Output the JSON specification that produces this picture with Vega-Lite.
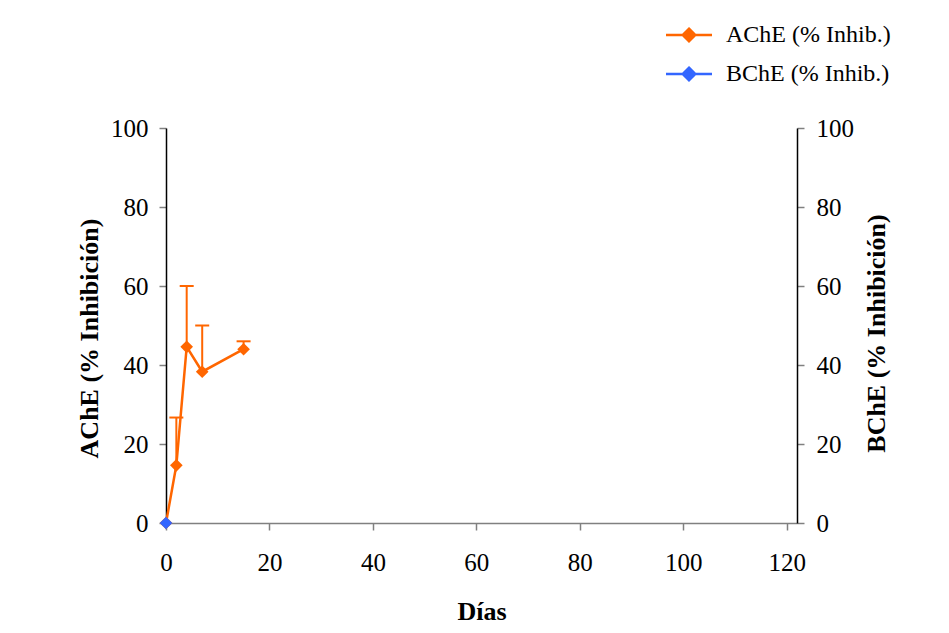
{
  "$schema": "https://vega.github.io/schema/vega-lite/v6.json",
  "width": 631,
  "height": 395,
  "autosize": {"type": "none"},
  "padding": {"left": 166, "top": 128, "right": 152, "bottom": 110},
  "background": "white",
  "config": {
    "view": {"stroke": null},
    "font": "Liberation Serif",
    "axis": {
      "grid": false,
      "labelFont": "Liberation Serif",
      "labelFontSize": 25,
      "labelColor": "black",
      "titleFont": "Liberation Serif",
      "titleFontSize": 26,
      "titleFontWeight": "bold",
      "titleColor": "black",
      "tickSize": 7,
      "tickColor": "#808080",
      "tickWidth": 1.5,
      "domainColor": "black",
      "domainWidth": 1.5
    }
  },
  "data": {
    "values": [
      {"dias": 0, "serie": "AChE (% Inhib.)", "valor": 0, "sup": null},
      {"dias": 2, "serie": "AChE (% Inhib.)", "valor": 14.6, "sup": 26.7},
      {"dias": 4, "serie": "AChE (% Inhib.)", "valor": 44.6, "sup": 60},
      {"dias": 7, "serie": "AChE (% Inhib.)", "valor": 38.3, "sup": 50},
      {"dias": 15, "serie": "AChE (% Inhib.)", "valor": 44, "sup": 46},
      {"dias": 0, "serie": "BChE (% Inhib.)", "valor": 0, "sup": null}
    ]
  },
  "layer": [
    {
      "transform": [{"filter": "datum.serie === 'AChE (% Inhib.)'"}],
      "encoding": {
        "x": {
          "field": "dias", "type": "quantitative",
          "scale": {"domain": [0, 122], "nice": false, "zero": false},
          "axis": {"values": [0, 20, 40, 60, 80, 100, 120], "title": "Días", "domainColor": "#808080", "labelPadding": 20, "titlePadding": 23, "labelFlush": false}
        },
        "y": {
          "field": "valor", "type": "quantitative",
          "scale": {"domain": [0, 100], "nice": false},
          "axis": {"orient": "left", "values": [0, 20, 40, 60, 80, 100], "title": "AChE (% Inhibición)", "labelPadding": 11, "titlePadding": 8, "titleY": 210}
        }
      },
      "layer": [
        {
          "transform": [{"filter": "datum.sup != null"}],
          "mark": {"type": "rule", "color": "#FF6600", "strokeWidth": 2},
          "encoding": {"y2": {"field": "sup"}}
        },
        {
          "transform": [{"filter": "datum.sup != null"}],
          "mark": {"type": "tick", "orient": "horizontal", "color": "#FF6600", "size": 14, "thickness": 2, "opacity": 1},
          "encoding": {
            "y": {
              "field": "sup", "type": "quantitative",
              "scale": {"domain": [0, 100], "nice": false},
              "axis": {"orient": "left", "values": [0, 20, 40, 60, 80, 100], "title": "AChE (% Inhibición)", "labelPadding": 11, "titlePadding": 8, "titleY": 210}
            }
          }
        },
        {
          "mark": {"type": "line", "color": "#FF6600", "strokeWidth": 2.5}
        },
        {
          "mark": {"type": "point", "shape": "diamond", "filled": true, "size": 160, "opacity": 1},
          "encoding": {
            "color": {
              "field": "serie", "type": "nominal",
              "scale": {"domain": ["AChE (% Inhib.)", "BChE (% Inhib.)"], "range": ["#FF6600", "#3366FF"]},
              "legend": {
                "title": null, "orient": "none", "legendX": 511, "legendY": -105, "padding": 0,
                "symbolType": "M-4.6,0H4.6M0,-1.25L1.25,0L0,1.25L-1.25,0Z",
                "symbolSize": 100, "symbolStrokeWidth": 2.5, "symbolOpacity": 1,
                "labelOffset": 25, "labelFont": "Liberation Serif", "labelFontSize": 24, "labelColor": "black",
                "rowPadding": 15, "labelLimit": 400,
                "encode": {"symbols": {"update": {"fill": {"scale": "color", "field": "value"}, "stroke": {"scale": "color", "field": "value"}}}}
              }
            }
          }
        }
      ]
    },
    {
      "transform": [{"filter": "datum.serie === 'BChE (% Inhib.)'"}],
      "mark": {"type": "point", "shape": "diamond", "filled": true, "size": 160, "opacity": 1},
      "encoding": {
        "x": {
          "field": "dias", "type": "quantitative",
          "scale": {"domain": [0, 122], "nice": false, "zero": false},
          "axis": {"values": [0, 20, 40, 60, 80, 100, 120], "title": "Días", "domainColor": "#808080", "labelPadding": 20, "titlePadding": 23, "labelFlush": false}
        },
        "y": {
          "field": "valor", "type": "quantitative",
          "scale": {"domain": [0, 100], "nice": false},
          "axis": {"orient": "right", "values": [0, 20, 40, 60, 80, 100], "title": "BChE (% Inhibición)", "labelPadding": 12, "titlePadding": 36, "titleAngle": 270, "titleY": 205}
        },
        "color": {
          "field": "serie", "type": "nominal",
          "scale": {"domain": ["AChE (% Inhib.)", "BChE (% Inhib.)"], "range": ["#FF6600", "#3366FF"]},
          "legend": {
            "title": null, "orient": "none", "legendX": 511, "legendY": -105, "padding": 0,
            "symbolType": "M-4.6,0H4.6M0,-1.25L1.25,0L0,1.25L-1.25,0Z",
            "symbolSize": 100, "symbolStrokeWidth": 2.5, "symbolOpacity": 1,
            "labelOffset": 25, "labelFont": "Liberation Serif", "labelFontSize": 24, "labelColor": "black",
            "rowPadding": 15, "labelLimit": 400,
            "encode": {"symbols": {"update": {"fill": {"scale": "color", "field": "value"}, "stroke": {"scale": "color", "field": "value"}}}}
          }
        }
      }
    }
  ],
  "resolve": {"scale": {"y": "independent"}}
}
